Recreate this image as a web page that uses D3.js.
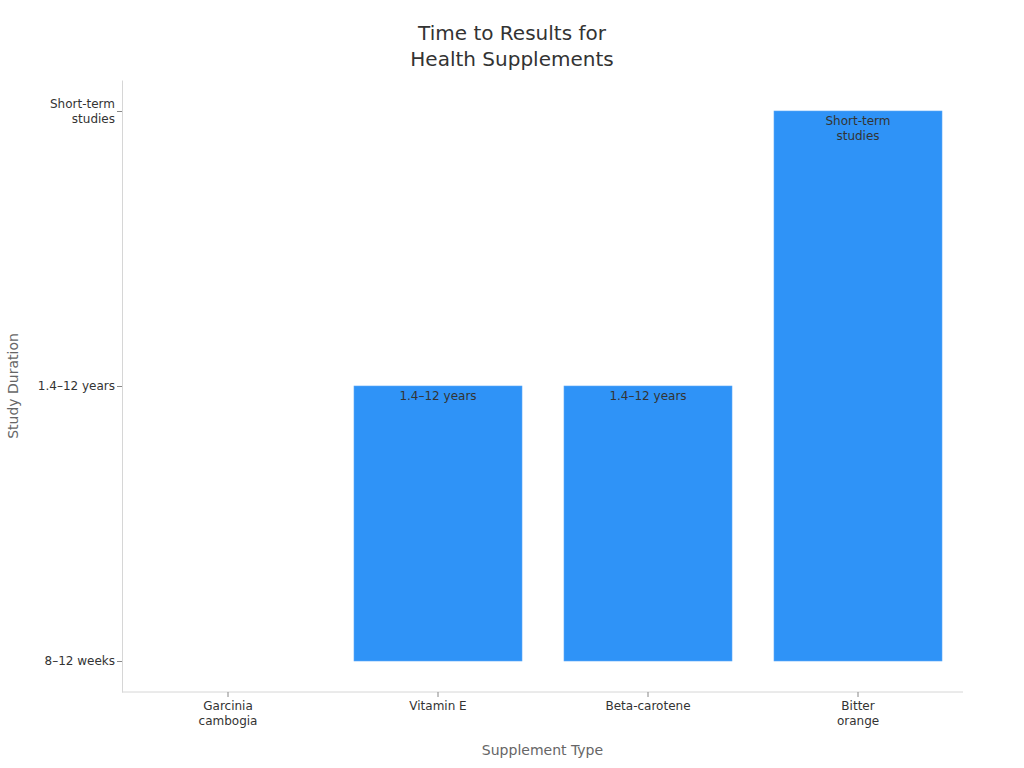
<!DOCTYPE html>
<html>
<head>
<meta charset="utf-8">
<script src="https://cdn.jsdelivr.net/npm/d3@7"></script>
<style>
  body { margin: 0; background: #fff; }
  svg, svg text { font-family: "DejaVu Sans", sans-serif; }
</style>
</head>
<body>
<div id="chart"></div>
<script>
const supplements = ["Garcinia cambogia", "Vitamin E", "Beta-carotene", "Bitter orange"];
const durationLevels = ["8–12 weeks", "1.4–12 years", "Short-term studies"];
const durations = ["8–12 weeks", "1.4–12 years", "1.4–12 years", "Short-term studies"];

const width = 1024, height = 768;
const margin = { top: 80, right: 61, bottom: 76, left: 122 };
const font = "DejaVu Sans, sans-serif";

const svg = d3.select("#chart").append("svg")
    .attr("width", width)
    .attr("height", height)
    .attr("font-family", font);

const x = d3.scaleBand()
    .domain(supplements)
    .range([margin.left + 1, width - margin.right])
    .paddingInner(0.2)
    .paddingOuter(0.1);

// levels are evenly spaced, the axis runs a little past both ends
const pad = 31 / 275;
const y = d3.scaleLinear()
    .domain([-pad, durationLevels.length - 1 + pad])
    .range([height - margin.bottom, margin.top]);

// split a label on spaces into lines when it is long
function splitLabel(s) {
    return (s.length > 12 && s.includes(" ")) ? s.split(" ") : [s];
}

// bars
svg.append("g").selectAll("rect")
    .data(supplements)
    .join("rect")
    .attr("x", d => x(d))
    .attr("width", x.bandwidth())
    .attr("y", (d, i) => y(durationLevels.indexOf(durations[i])))
    .attr("height", (d, i) => y(0) - y(durationLevels.indexOf(durations[i])))
    .attr("fill", "#2f93f7")
    .attr("stroke", "#5aa9f9")
    .attr("stroke-width", 0.6);

// value labels inside bars
svg.append("g").selectAll("text")
    .data(supplements.map((s, i) => ({ s, v: durations[i] })).filter(d => durationLevels.indexOf(d.v) > 0))
    .join("text")
    .attr("x", d => x(d.s) + x.bandwidth() / 2)
    .attr("y", d => y(durationLevels.indexOf(d.v)) + 14)
    .attr("text-anchor", "middle")
    .attr("font-size", 12)
    .attr("fill", "#333")
    .each(function(d) {
        const t = d3.select(this);
        splitLabel(d.v).forEach((w, i) => {
            t.append("tspan").attr("x", t.attr("x")).attr("dy", i === 0 ? 0 : "1.25em").text(w);
        });
    });

// x axis
const xAxis = svg.append("g")
    .attr("transform", `translate(0,${height - margin.bottom})`)
    .call(d3.axisBottom(x).tickSize(5).tickSizeOuter(0))
    .attr("font-family", font);
xAxis.select(".domain").attr("stroke", "#d6d6d6").attr("d", `M${margin.left},0H${width - margin.right}`);
xAxis.selectAll(".tick line").attr("stroke", "#888");
xAxis.selectAll(".tick text")
    .attr("font-size", 12)
    .attr("fill", "#333")
    .attr("y", 9)
    .each(function() {
        const t = d3.select(this);
        const words = splitLabel(t.text());
        if (words.length < 2) return;
        t.text(null);
        words.forEach((w, i) => {
            t.append("tspan").attr("x", 0).attr("dy", i === 0 ? "0.71em" : "1.25em").text(w);
        });
        t.attr("dy", null);
    });

// y axis
const yAxis = svg.append("g")
    .attr("transform", `translate(${margin.left},0)`)
    .call(d3.axisLeft(y)
        .tickValues(durationLevels.map((d, i) => i))
        .tickFormat(i => durationLevels[i])
        .tickSize(5)
        .tickSizeOuter(0))
    .attr("font-family", font);
yAxis.select(".domain").attr("stroke", "#d6d6d6");
yAxis.selectAll(".tick line").attr("stroke", "#888");
yAxis.selectAll(".tick text")
    .attr("font-size", 12)
    .attr("fill", "#333")
    .attr("x", -7)
    .each(function() {
        const t = d3.select(this);
        const words = splitLabel(t.text());
        if (words.length < 2) return;
        t.text(null);
        words.forEach((w, i) => {
            t.append("tspan").attr("x", -7).attr("dy", i === 0 ? "-0.3em" : "1.25em").text(w);
        });
    });

// axis titles
svg.append("text")
    .attr("x", (margin.left + width - margin.right) / 2)
    .attr("y", 755)
    .attr("text-anchor", "middle")
    .attr("font-size", 14)
    .attr("fill", "#666")
    .text("Supplement Type");

svg.append("text")
    .attr("transform", `translate(18,${(margin.top + height - margin.bottom) / 2}) rotate(-90)`)
    .attr("text-anchor", "middle")
    .attr("font-size", 14)
    .attr("fill", "#666")
    .text("Study Duration");

// title
const title = svg.append("text")
    .attr("x", 512)
    .attr("y", 40)
    .attr("text-anchor", "middle")
    .attr("font-size", 20)
    .attr("fill", "#333");
title.append("tspan").attr("x", 512).text("Time to Results for");
title.append("tspan").attr("x", 512).attr("dy", 26).text("Health Supplements");
</script>
</body>
</html>
